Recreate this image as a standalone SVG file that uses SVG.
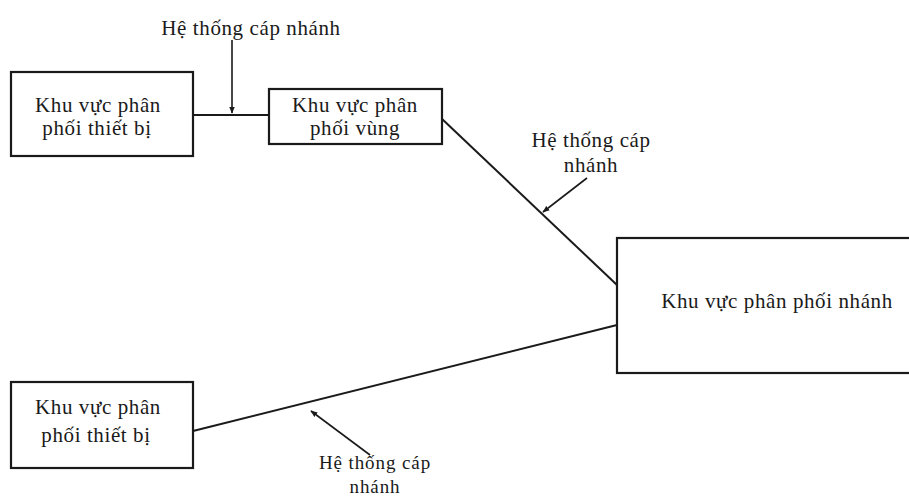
<svg xmlns="http://www.w3.org/2000/svg" width="909" height="497" viewBox="0 0 909 497">
  <style>
    .box { fill: #ffffff; stroke: #1a1a1a; stroke-width: 2.2; }
    .wire { fill: none; stroke: #1a1a1a; stroke-width: 2; }
    .pointer { fill: none; stroke: #1a1a1a; stroke-width: 1.6; }
    text { font-family: "Liberation Serif", "DejaVu Serif", serif; font-size: 21px; letter-spacing: 0.6px; fill: #1a1a1a; text-anchor: middle; }
    .small { font-size: 19px; letter-spacing: 0.9px; }
  </style>
  <defs>
    <marker id="head" viewBox="0 0 10 10" refX="9" refY="5" markerWidth="7" markerHeight="7" orient="auto" markerUnits="userSpaceOnUse">
      <path d="M0,1 L10,5 L0,9 Z" fill="#1a1a1a"/>
    </marker>
  </defs>
  <rect width="909" height="497" fill="#ffffff"/>

  <!-- connectors -->
  <g id="connectors">
    <line class="wire" x1="193" y1="115" x2="269" y2="115"/>
    <line class="wire" x1="441" y1="118" x2="617" y2="285"/>
    <line class="wire" x1="193" y1="431" x2="617" y2="325"/>
  </g>

  <!-- callouts naming the branch cable runs -->
  <g id="label-top">
    <text x="251" y="35">Hệ thống cáp nhánh</text>
    <line class="pointer" x1="232" y1="40" x2="232" y2="113" marker-end="url(#head)"/>
  </g>
  <g id="label-right">
    <text x="591" y="147">Hệ thống cáp</text>
    <text x="591" y="172">nhánh</text>
    <line class="pointer" x1="587" y1="178" x2="543" y2="212" marker-end="url(#head)"/>
  </g>
  <g id="label-bottom">
    <text class="small" x="375" y="469">Hệ thống cáp</text>
    <text class="small" x="375" y="493">nhánh</text>
    <line class="pointer" x1="370" y1="455" x2="311" y2="411" marker-end="url(#head)"/>
  </g>

  <!-- nodes -->
  <g id="node-thiet-bi-1">
    <rect class="box" x="11" y="72" width="182" height="84"/>
    <text x="98" y="112">Khu vực phân</text>
    <text x="97" y="135">phối thiết bị</text>
  </g>
  <g id="node-vung">
    <rect class="box" x="269" y="89" width="173" height="55"/>
    <text x="355" y="112">Khu vực phân</text>
    <text x="355" y="135">phối vùng</text>
  </g>
  <g id="node-nhanh">
    <rect class="box" x="617" y="238" width="300" height="135"/>
    <text x="777" y="308">Khu vực phân phối nhánh</text>
  </g>
  <g id="node-thiet-bi-2">
    <rect class="box" x="11" y="382" width="182" height="86"/>
    <text x="98" y="414">Khu vực phân</text>
    <text x="96" y="442">phối thiết bị</text>
  </g>
</svg>
